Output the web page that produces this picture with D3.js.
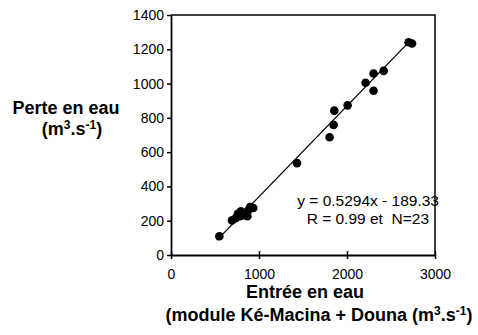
<!DOCTYPE html>
<html>
<head>
<meta charset="utf-8">
<script src="https://cdn.jsdelivr.net/npm/d3@7"></script>
<style>
  html, body { margin: 0; padding: 0; background: #fff; }
  text { font-family: "Liberation Sans", Arial, sans-serif; fill: #000; }
</style>
</head>
<body>
<div id="chart"></div>
<script>
// Entrée en eau (x) vs Perte en eau (y), m3/s
const entree = [549, 693, 735, 760, 782, 795, 815, 845, 868, 880, 900, 935,
  1432, 1802, 1848, 1856, 2007, 2211, 2302, 2302, 2416, 2700, 2739];
const perte = [109, 202, 215, 240, 226, 255, 232, 240, 226, 262, 280, 274,
  536, 687, 759, 842, 873, 1005, 1059, 958, 1074, 1241, 1234];

const slope = 0.5294, intercept = -189.33;
const fitRange = [522, 2700];
const xTicks = [0, 1000, 2000, 3000];
const yTicks = [0, 200, 400, 600, 800, 1000, 1200, 1400];

const width = 478, height = 335;
const margin = { top: 15, right: 43, bottom: 80, left: 171 };
const w = width - margin.left - margin.right;
const h = height - margin.top - margin.bottom;

const x = d3.scaleLinear().domain([0, 3000]).range([0, w]);
const y = d3.scaleLinear().domain([0, 1400]).range([h, 0]);

const svg = d3.select('#chart').append('svg')
  .attr('width', width)
  .attr('height', height);

const g = svg.append('g').attr('transform', `translate(${margin.left},${margin.top})`);

// frame (top + right)
g.append('path')
  .attr('d', `M0,0H${w}V${h}`)
  .attr('fill', 'none')
  .attr('stroke', '#000')
  .attr('stroke-width', 1.5);

// x axis
const xAxis = g.append('g')
  .attr('transform', `translate(0,${h})`)
  .call(d3.axisBottom(x).tickValues(xTicks).tickFormat(d3.format('d'))
    .tickSize(4).tickPadding(10).tickSizeOuter(0));
xAxis.select('.domain').attr('stroke-width', 1.8);
xAxis.selectAll('.tick line').attr('y1', -4).attr('stroke-width', 1.5);
xAxis.selectAll('.tick text').attr('font-size', 14).attr('font-family', '"Liberation Sans", Arial, sans-serif');

// y axis
const yAxis = g.append('g')
  .call(d3.axisLeft(y).tickValues(yTicks).tickFormat(d3.format('d'))
    .tickSize(4).tickPadding(3).tickSizeOuter(0));
yAxis.select('.domain').attr('stroke-width', 1.8);
yAxis.selectAll('.tick line').attr('stroke-width', 1.5);
yAxis.selectAll('.tick text').attr('font-size', 14).attr('font-family', '"Liberation Sans", Arial, sans-serif');

// regression line
g.append('line')
  .attr('x1', x(fitRange[0])).attr('y1', y(slope * fitRange[0] + intercept))
  .attr('x2', x(fitRange[1])).attr('y2', y(slope * fitRange[1] + intercept))
  .attr('stroke', '#000')
  .attr('stroke-width', 1.3);

// points
g.selectAll('.pt')
  .data(entree.map((v, i) => [v, perte[i]]))
  .enter()
  .append('circle')
  .attr('class', 'pt')
  .attr('cx', d => x(d[0]))
  .attr('cy', d => y(d[1]))
  .attr('r', 4.3)
  .attr('fill', '#000');

// equation
g.append('text')
  .attr('x', 268).attr('y', 191)
  .attr('text-anchor', 'end')
  .attr('font-size', 15.5)
  .text('y = 0.5294x - 189.33');
g.append('text')
  .attr('x', 258).attr('y', 209)
  .attr('text-anchor', 'end')
  .attr('font-size', 15.5)
  .attr('xml:space', 'preserve')
  .text('R = 0.99 et  N=23');

// y title
const yTitle = svg.append('text')
  .attr('font-size', 18)
  .attr('font-weight', 'bold')
  .attr('text-anchor', 'middle');
yTitle.append('tspan').attr('x', 66).attr('y', 114).text('Perte en eau');
const yt2 = yTitle.append('tspan').attr('x', 72).attr('y', 135);
yt2.append('tspan').text('(m');
yt2.append('tspan').attr('font-size', 12).attr('dy', -6).text('3');
yt2.append('tspan').attr('dy', 6).text('.s');
yt2.append('tspan').attr('font-size', 12).attr('dy', -6).text('-1');
yt2.append('tspan').attr('dy', 6).text(')');

// x title
const xTitle = svg.append('text')
  .attr('font-size', 18)
  .attr('font-weight', 'bold')
  .attr('text-anchor', 'middle');
xTitle.append('tspan').attr('x', 305).attr('y', 298).text('Entrée en eau');
const xt2 = xTitle.append('tspan').attr('x', 319).attr('y', 321);
xt2.append('tspan').text('(module Ké-Macina + Douna (m');
xt2.append('tspan').attr('font-size', 12).attr('dy', -6).text('3');
xt2.append('tspan').attr('dy', 6).text('.s');
xt2.append('tspan').attr('font-size', 12).attr('dy', -6).text('-1');
xt2.append('tspan').attr('dy', 6).text(')');
</script>
</body>
</html>
